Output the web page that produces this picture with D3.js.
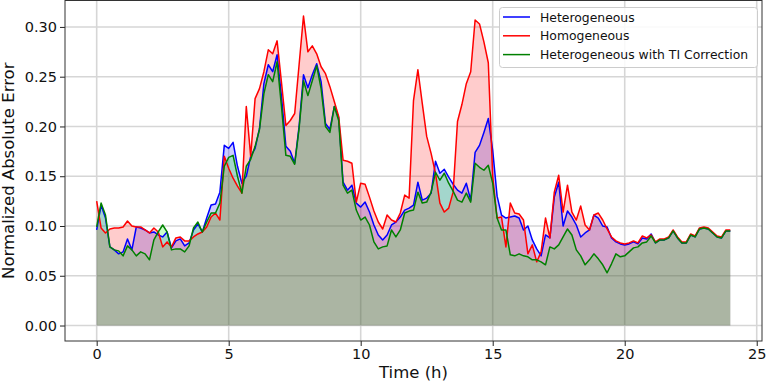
<!DOCTYPE html>
<html>
<head>
<meta charset="utf-8">
<script src="https://cdn.jsdelivr.net/npm/d3@7"></script>
<style>
  html, body { margin: 0; padding: 0; background: #ffffff; }
  svg { display: block; font-family: "DejaVu Sans", sans-serif; }
</style>
</head>
<body>
<svg id="chart" width="766" height="381"></svg>
<script>
// ---------------- data ----------------
const minutes = [0,10,20,30,40,50,60,70,80,90,100,110,120,130,140,150,160,170,180,190,200,210,220,230,240,250,260,270,280,290,300,310,320,330,340,350,360,370,380,390,400,410,420,430,440,450,460,470,480,490,500,510,520,530,540,550,560,570,580,590,600,610,620,630,640,650,660,670,680,690,700,710,720,730,740,750,760,770,780,790,800,810,820,830,840,850,860,870,880,890,900,910,920,930,940,950,960,970,980,990,1000,1010,1020,1030,1040,1050,1060,1070,1080,1090,1100,1110,1120,1130,1140,1150,1160,1170,1180,1190,1200,1210,1220,1230,1240,1250,1260,1270,1280,1290,1300,1310,1320,1330,1340,1350,1360,1370,1380,1390,1400,1410,1420,1430,1440];

const heterogeneous = [
0.096,0.121,0.108,0.079,0.076,0.072,0.074,0.087,0.076,0.099,
0.098,0.096,0.093,0.094,0.091,0.089,0.094,0.078,0.085,0.087,
0.080,0.083,0.096,0.102,0.094,0.108,0.121,0.122,0.134,0.181,
0.178,0.184,0.160,0.143,0.150,0.170,0.178,0.198,0.243,0.262,
0.255,0.272,0.230,0.180,0.175,0.163,0.200,0.252,0.239,0.252,
0.263,0.245,0.203,0.197,0.220,0.209,0.144,0.136,0.141,0.123,
0.119,0.124,0.114,0.101,0.091,0.086,0.091,0.101,0.104,0.109,
0.116,0.118,0.121,0.144,0.126,0.128,0.133,0.165,0.153,0.157,
0.149,0.142,0.136,0.133,0.143,0.126,0.174,0.181,0.194,0.208,
0.176,0.130,0.111,0.108,0.109,0.110,0.108,0.096,0.100,0.086,
0.077,0.070,0.091,0.088,0.129,0.144,0.100,0.115,0.109,0.101,
0.089,0.093,0.096,0.111,0.108,0.100,0.099,0.088,0.084,0.082,
0.081,0.082,0.084,0.082,0.088,0.087,0.092,0.083,0.086,0.086,
0.088,0.095,0.088,0.083,0.083,0.091,0.089,0.097,0.098,0.097,
0.093,0.089,0.088,0.095,0.095];

const homogeneous = [
0.125,0.098,0.093,0.097,0.098,0.098,0.099,0.105,0.100,0.099,
0.099,0.096,0.093,0.098,0.094,0.079,0.084,0.079,0.088,0.089,
0.085,0.085,0.089,0.092,0.094,0.099,0.109,0.113,0.106,0.170,
0.158,0.148,0.140,0.133,0.220,0.170,0.228,0.238,0.255,0.277,
0.273,0.286,0.244,0.201,0.206,0.213,0.262,0.311,0.275,0.281,
0.273,0.260,0.253,0.240,0.225,0.210,0.166,0.165,0.163,0.124,
0.143,0.142,0.129,0.115,0.104,0.097,0.111,0.106,0.104,0.113,
0.131,0.128,0.226,0.257,0.223,0.190,0.173,0.153,0.123,0.114,
0.118,0.134,0.205,0.222,0.243,0.255,0.307,0.303,0.285,0.264,
0.150,0.108,0.109,0.079,0.123,0.113,0.112,0.106,0.072,0.081,
0.064,0.074,0.108,0.088,0.134,0.151,0.114,0.141,0.114,0.106,
0.120,0.101,0.096,0.111,0.113,0.106,0.097,0.089,0.085,0.083,
0.082,0.083,0.085,0.083,0.090,0.088,0.091,0.084,0.087,0.087,
0.089,0.096,0.089,0.084,0.084,0.092,0.090,0.098,0.099,0.098,
0.094,0.090,0.089,0.096,0.096];

const heterogeneousTI = [
0.099,0.123,0.111,0.079,0.076,0.075,0.070,0.080,0.076,0.070,
0.074,0.072,0.066,0.086,0.094,0.101,0.094,0.076,0.077,0.077,
0.074,0.080,0.098,0.104,0.094,0.104,0.113,0.113,0.123,0.160,
0.169,0.171,0.150,0.133,0.160,0.167,0.180,0.197,0.233,0.252,
0.245,0.265,0.220,0.171,0.170,0.162,0.198,0.246,0.231,0.246,
0.261,0.238,0.200,0.194,0.220,0.206,0.141,0.133,0.136,0.116,
0.106,0.109,0.101,0.084,0.077,0.079,0.080,0.096,0.089,0.096,
0.113,0.115,0.116,0.134,0.123,0.124,0.134,0.154,0.146,0.153,
0.143,0.135,0.126,0.124,0.133,0.124,0.163,0.159,0.156,0.161,
0.143,0.108,0.096,0.096,0.071,0.070,0.072,0.070,0.069,0.066,
0.066,0.064,0.061,0.079,0.077,0.081,0.089,0.097,0.091,0.076,
0.070,0.061,0.066,0.072,0.067,0.061,0.053,0.062,0.072,0.069,
0.070,0.074,0.078,0.079,0.083,0.084,0.090,0.083,0.086,0.086,
0.088,0.095,0.088,0.083,0.083,0.091,0.089,0.097,0.098,0.097,
0.093,0.089,0.088,0.095,0.095];

const seriesNames = ["Heterogeneous", "Homogeneous", "Heterogeneous with TI Correction"];
const xTicks = [0, 5, 10, 15, 20, 25];
const yTicks = [0.00, 0.05, 0.10, 0.15, 0.20, 0.25, 0.30];
const xLabel = "Time (h)";
const yLabel = "Normalized Absolute Error";

// ---------------- chart ----------------
const svg = d3.select("#chart");
const L = 65, R = 762, T = 0.5, B = 341;

const x = d3.scaleLinear().domain([-1.2, 25.2]).range([L, R]);
const y = d3.scaleLinear().domain([-0.01555, 0.32655]).range([B, T]);

const toRows = vals => minutes.map((m, i) => ({ h: m / 60, v: vals[i] }));

const series = [
  { name: seriesNames[0], rows: toRows(heterogeneous),   line: "#0000ff", fill: "#0000ff", fillOp: 0.2 },
  { name: seriesNames[1], rows: toRows(homogeneous),     line: "#ff0000", fill: "#ff0000", fillOp: 0.2 },
  { name: seriesNames[2], rows: toRows(heterogeneousTI), line: "#008000", fill: "#00ff00", fillOp: 0.2 }
];

// grid
const grid = svg.append("g");
grid.selectAll("line.gx").data(xTicks).join("line")
  .attr("x1", d => x(d)).attr("x2", d => x(d))
  .attr("y1", T).attr("y2", B)
  .attr("stroke", "#d6d6d6").attr("stroke-width", 1.6);
grid.selectAll("line.gy").data(yTicks).join("line")
  .attr("x1", L).attr("x2", R)
  .attr("y1", d => y(d)).attr("y2", d => y(d))
  .attr("stroke", "#d6d6d6").attr("stroke-width", 1.6);

// fills
const area = d3.area().x(d => x(d.h)).y0(y(0)).y1(d => y(d.v));
series.forEach(s => {
  svg.append("path").datum(s.rows)
    .attr("d", area)
    .attr("fill", s.fill)
    .attr("fill-opacity", s.fillOp)
    .attr("stroke", "none");
});

// lines
const line = d3.line().x(d => x(d.h)).y(d => y(d.v));
series.forEach(s => {
  svg.append("path").datum(s.rows)
    .attr("d", line)
    .attr("fill", "none")
    .attr("stroke", s.line)
    .attr("stroke-width", 1.5)
    .attr("stroke-linejoin", "round");
});

// axes
const xAxis = d3.axisBottom(x).tickValues(xTicks).tickFormat(d3.format("d")).tickSize(5).tickPadding(3);
const yAxis = d3.axisLeft(y).tickValues(yTicks).tickFormat(d3.format(".2f")).tickSize(5).tickPadding(3);

const gx = svg.append("g").attr("transform", `translate(0,${B})`).call(xAxis);
const gy = svg.append("g").attr("transform", `translate(${L},0)`).call(yAxis);
[gx, gy].forEach(g => {
  g.select(".domain").remove();
  g.selectAll(".tick line").attr("stroke", "#222").attr("stroke-width", 1);
  g.selectAll(".tick text").attr("fill", "#111").style("font-size", "14.5px")
    .style("font-family", "'DejaVu Sans', sans-serif");
});

// frame
svg.append("rect").attr("x", L).attr("y", T).attr("width", R - L).attr("height", B - T)
  .attr("fill", "none").attr("stroke", "#333").attr("stroke-width", 1);

// axis labels
svg.append("text").attr("x", (L + R) / 2).attr("y", 378)
  .attr("text-anchor", "middle").style("font-size", "16.5px").attr("fill", "#111")
  .text(xLabel);
svg.append("text").attr("transform", `translate(14,${(T + B) / 2}) rotate(-90)`)
  .attr("text-anchor", "middle").style("font-size", "16.5px").attr("fill", "#111")
  .text(yLabel);

// legend
const lg = svg.append("g");
lg.append("rect").attr("x", 499.5).attr("y", 7.5).attr("width", 258).attr("height", 60)
  .attr("rx", 3).attr("fill", "#ffffff").attr("fill-opacity", 0.85)
  .attr("stroke", "#cccccc").attr("stroke-width", 1);
series.forEach((s, i) => {
  const yy = 17 + i * 18.8;
  lg.append("line").attr("x1", 503).attr("x2", 530).attr("y1", yy).attr("y2", yy)
    .attr("stroke", s.line).attr("stroke-width", 1.5);
  lg.append("text").attr("x", 540).attr("y", yy + 4.5).style("font-size", "12.4px")
    .attr("fill", "#111").text(s.name);
});
</script>
</body>
</html>
